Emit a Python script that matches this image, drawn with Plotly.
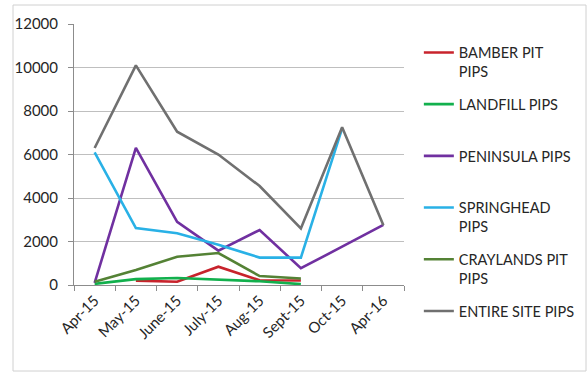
import plotly.graph_objects as go

categories = ['Apr-15', 'May-15', 'June-15', 'July-15', 'Aug-15', 'Sept-15', 'Oct-15', 'Apr-16']

bamber_pit = [None, 200, 150, 840, 220, 210, None, None]
landfill = [50, 270, 320, 250, 170, 40, None, None]
peninsula = [100, 6300, 2900, 1580, 2530, 770, 1760, 2760]
springhead = [6100, 2620, 2380, 1850, 1260, 1260, 7200, None]
craylands_pit = [150, 690, 1300, 1470, 410, 300, None, None]
entire_site = [6300, 10100, 7050, 6000, 4550, 2600, 7250, 2750]

series_names = ['BAMBER PIT<br>PIPS', 'LANDFILL PIPS<br>&nbsp;', 'PENINSULA PIPS<br>&nbsp;',
                'SPRINGHEAD<br>PIPS', 'CRAYLANDS PIT<br>PIPS', 'ENTIRE SITE PIPS<br>&nbsp;']
series_values = [bamber_pit, landfill, peninsula, springhead, craylands_pit, entire_site]
series_colors = ['#C8232C', '#12B04D', '#7030A0', '#29B1E6', '#548235', '#707070']

fig = go.Figure()
for i, (name, vals, col) in enumerate(zip(series_names, series_values, series_colors)):
    fig.add_trace(go.Scatter(
        x=categories, y=vals, name=name, mode='lines',
        line=dict(color=col, width=2.6), connectgaps=False,
        legendgroup=f'g{i}'))

font_family = 'Lato, Open Sans, sans-serif'
fig.update_layout(
    width=587, height=372,
    margin=dict(l=74, r=183, t=24, b=87, autoexpand=False),
    paper_bgcolor='white', plot_bgcolor='white',
    font=dict(family=font_family, color='#262626'),
    showlegend=True,
    legend=dict(x=1.045, xanchor='left', y=0.952, yanchor='top',
                font=dict(size=14.5, color='#262626'),
                valign='top', tracegroupgap=11, itemwidth=30,
                maxheight=340,
                bgcolor='rgba(0,0,0,0)'),
    xaxis=dict(type='category', showgrid=False, showline=True, linecolor='#8c8c8c',
               linewidth=1, ticks='outside', tickson='boundaries', ticklen=5,
               tickcolor='#8c8c8c', tickangle=-45, tickfont=dict(size=15, color='#262626'),
               range=[-0.5, 7.5]),
    yaxis=dict(range=[0, 12000], dtick=2000, showgrid=True, gridcolor='#bfbfbf',
               gridwidth=1, showline=True, linecolor='#8c8c8c', linewidth=1,
               ticks='outside', ticklen=5, tickcolor='#8c8c8c', zeroline=False,
               ticklabelstandoff=7,
               tickfont=dict(size=15, color='#262626'), tickformat='d'),
)

fig.add_shape(type='rect', xref='paper', yref='paper',
              x0=(13 - 74) / 330, x1=(586 - 74) / 330,
              y0=(285 - 371) / 261, y1=(285 - 5) / 261,
              line=dict(color='#d0d0d0', width=1), layer='below')

fig.write_html('out.html', config={'displayModeBar': False},
               post_script="document.body.style.margin='0';document.body.style.overflow='hidden';")
